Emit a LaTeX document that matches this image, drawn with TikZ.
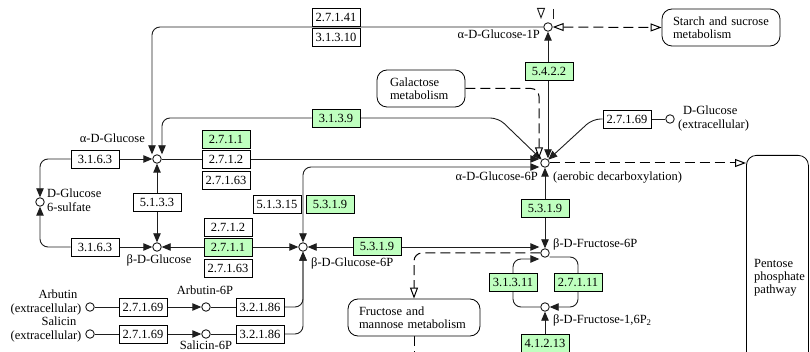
\documentclass[tikz,border=0pt]{standalone}
\usepackage{fontspec}
\setmainfont{Liberation Serif}
\usetikzlibrary{arrows.meta,calc,backgrounds}
\definecolor{kgreen}{RGB}{191,255,191}
\definecolor{kline}{RGB}{30,30,30}
\begin{document}
\begin{tikzpicture}[x=1pt,y=-1pt,
  font=\fontsize{12.5}{13}\selectfont,
  >={Triangle[length=9pt,width=7.5pt]},
  otip/.tip={Triangle[length=11pt,width=8pt,fill=white]},
  cpd/.style={circle,draw=kline,fill=white,line width=0.9pt,minimum size=8.5pt,inner sep=0pt},
  enz/.style={draw=black,line width=0.8pt,fill=white,minimum width=48pt,minimum height=18pt,inner sep=0pt},
  gene/.style={enz,fill=kgreen},
  pmap/.style={draw=black,line width=0.8pt,fill=white,rounded corners=10pt,align=left,inner sep=0pt},
  lbl/.style={inner sep=0pt},
  conn/.style={draw=kline,line width=0.9pt,rounded corners=8pt},
  dline/.style={conn,draw=black,line width=1pt,dash pattern=on 10pt off 5pt}]
\useasboundingbox (0,0) rectangle (810,352);

% compounds
\node[cpd] (aglc)  at (157,159) {};
\node[cpd] (bglc)  at (157,247) {};
\node[cpd] (gs6)   at (40,202) {};
\node[cpd] (ag1p)  at (548,27) {};
\node[cpd] (ag6p)  at (545,163) {};
\node[cpd] (bg6p)  at (303,247) {};
\node[cpd] (f6p)   at (545,253) {};
\node[cpd] (fbp)   at (545,307) {};
\node[cpd] (glcx)  at (670,119) {};
\node[cpd] (arb)   at (90,307) {};
\node[cpd] (arb6p) at (206,307) {};
\node[cpd] (sal)   at (90,334) {};
\node[cpd] (sal6p) at (206,334) {};

% enzymes
\node[enz]  (e27141)  at (336,17)  {2.7.1.41};
\node[enz]  (e31310)  at (336,37)  {3.1.3.10};
\node[gene] (e3139)   at (336,118) {3.1.3.9};
\node[gene] (e5422)   at (549,71)  {5.4.2.2};
\node[enz]  (e3163a)  at (95,159)  {3.1.6.3};
\node[enz]  (e3163b)  at (95,247)  {3.1.6.3};
\node[enz]  (e5133)   at (157,202) {5.1.3.3};
\node[gene] (e2711a)  at (226,139) {2.7.1.1};
\node[enz]  (e2712a)  at (226,159) {2.7.1.2};
\node[enz]  (e27163a) at (226,180) {2.7.1.63};
\node[enz]  (e2712b)  at (228,227) {2.7.1.2};
\node[gene] (e2711b)  at (228,247) {2.7.1.1};
\node[enz]  (e27163b) at (228,268) {2.7.1.63};
\node[enz]  (e51315)  at (277,204) {5.1.3.15};
\node[gene] (e5319a)  at (330,204) {5.3.1.9};
\node[gene] (e5319b)  at (377,246) {5.3.1.9};
\node[gene] (e5319c)  at (545,208) {5.3.1.9};
\node[gene] (e31311)  at (513,282) {3.1.3.11};
\node[gene] (e27111)  at (578,282) {2.7.1.11};
\node[gene] (e41213)  at (545,343) {4.1.2.13};
\node[enz]  (e27169a) at (143,307) {2.7.1.69};
\node[enz]  (e32186a) at (260,307) {3.2.1.86};
\node[enz]  (e27169b) at (143,334) {2.7.1.69};
\node[enz]  (e32186b) at (260,334) {3.2.1.86};
\node[enz]  (e27169c) at (627,119) {2.7.1.69};

% pathway maps
\node[pmap,minimum width=118pt,minimum height=37pt,text width=96pt] (starch) at (721,27.5) {Starch and sucrose\\metabolism};
\node[pmap,minimum width=88pt,minimum height=37pt,text width=62pt] (galac) at (421,88.5) {Galactose\\metabolism};
\node[pmap,minimum width=132pt,minimum height=37pt,text width=110pt] (fruc) at (414,317.5) {Fructose and\\mannose metabolism};
\node[pmap,anchor=north west,minimum width=62pt,minimum height=215pt] (pent) at (746,155) {};
\node[lbl,anchor=west,align=left] (penttxt) at (754,278) {Pentose\\phosphate\\pathway};

% compound labels
\node[lbl,anchor=mid east] (laglc) at (145,140) {α-D-Glucose};
\node[lbl,anchor=mid] (lbglc) at (159,261) {β-D-Glucose};
\node[lbl,anchor=mid west] (lgs6a) at (47,195) {D-Glucose};
\node[lbl,anchor=mid west] (lgs6b) at (47,209) {6-sulfate};
\node[lbl,anchor=mid east] (lag1p) at (540,36) {α-D-Glucose-1P};
\node[lbl,anchor=mid east] (lag6p) at (538,178) {α-D-Glucose-6P};
\node[lbl,anchor=mid west] (laer) at (553,178) {(aerobic decarboxylation)};
\node[lbl,anchor=mid west] (lbg6p) at (311,264) {β-D-Glucose-6P};
\node[lbl,anchor=mid west] (lf6p) at (553,245) {β-D-Fructose-6P};
\node[lbl,anchor=mid west] (lfbp) at (553,321) {β-D-Fructose-1,6P\textsubscript{2}};
\node[lbl,anchor=mid] (larb6p) at (205,292) {Arbutin-6P};
\node[lbl,anchor=mid] (lsal6p) at (206,347) {Salicin-6P};
\node[lbl,anchor=mid] (larba) at (58,296) {Arbutin};
\node[lbl,anchor=mid] (larbb) at (46,310) {(extracellular)};
\node[lbl,anchor=mid] (lsala) at (59,323) {Salicin};
\node[lbl,anchor=mid] (lsalb) at (46,337) {(extracellular)};
\node[lbl,anchor=mid west] (lglcxa) at (683,112) {D-Glucose};
\node[lbl,anchor=mid west] (lglcxb) at (678,126) {(extracellular)};

\begin{pgfonlayer}{background}
% alpha-D-glucose links
\draw[conn,<-] ($(aglc.north)+(-5,0)$) |- (ag1p.west);
\draw[conn,<-] ($(aglc.north)+(5,0)$) |- (e3139.west);
\draw[conn,->] (e3139.east) -- ++(138,0) -- (ag6p.135);
\draw[conn,->] (aglc.east) -- ($(aglc -| ag6p.west)+(-1,0)$);
\draw[conn,->] (e3163a.east) -- (aglc.west);
\draw[conn,->] (e3163a.west) -| (gs6.north);
\draw[conn,->] (e3163b.west) -| (gs6.south);
\draw[conn,->] (e3163b.east) -- (bglc.west);
\draw[conn,<->] (aglc.south) -- (bglc.north);
\draw[conn,<->] (bglc.east) -- (bg6p.west);
% glucose-6P links
\draw[conn,<->] (bg6p.north) |- ($(ag6p.west)+(-1,4)$);
\draw[conn,<->] (bg6p.east) -- ($(bg6p -| f6p.west)+(-1,0)$);
\draw[conn,<->] (ag1p.south) -- (ag1p.south |- ag6p.north);
\draw[conn,<->] (ag6p.south) -- (f6p.north);
\draw[conn,->] (e27169c.west) -- ++(-10,0) -- (ag6p.45);
\draw[conn] (glcx.west) -- (e27169c.east);
% map links
\draw[dline,-otip] (galac.east) -| ($(ag6p.north)+(-6,0)$);
\draw[dline,otip-otip] (ag1p.east) -- (starch.west);
\draw[dline,-otip] (ag6p.east) -- (ag6p -| pent.west);
\draw[dline,-otip] (f6p.west) -| (fruc.north);
\draw[dline] (fruc.south) -- ++(0,20);
\draw[conn,-otip] ($(ag1p)+(-7,-19)$) -- ($(ag1p)+(-7,-8)$);
\draw[conn] ($(ag1p)+(5,-18)$) -- ($(ag1p)+(5,-8)$);
% fructose cycle
\draw[conn,->] (fbp.west) -| (e31311.center) |- ($(f6p.west)+(-1,6)$);
\draw[conn,->] ($(f6p.east)+(0,4)$) -| (e27111.center) |- (fbp.east);
\draw[conn,->] (e41213.north) -- (fbp.south);
% arbutin and salicin
\draw[conn] (arb.east) -- (e27169a.west);
\draw[conn,->] (e27169a.east) -- (arb6p.west);
\draw[conn] (arb6p.east) -- (e32186a.west);
\draw[conn,->] (e32186a.east) -| (bg6p.south);
\draw[conn] (sal.east) -- (e27169b.west);
\draw[conn,->] (e27169b.east) -- (sal6p.west);
\draw[conn] (sal6p.east) -- (e32186b.west);
\draw[conn,->] (e32186b.east) -| (bg6p.south);
\end{pgfonlayer}
\end{tikzpicture}
\end{document}
